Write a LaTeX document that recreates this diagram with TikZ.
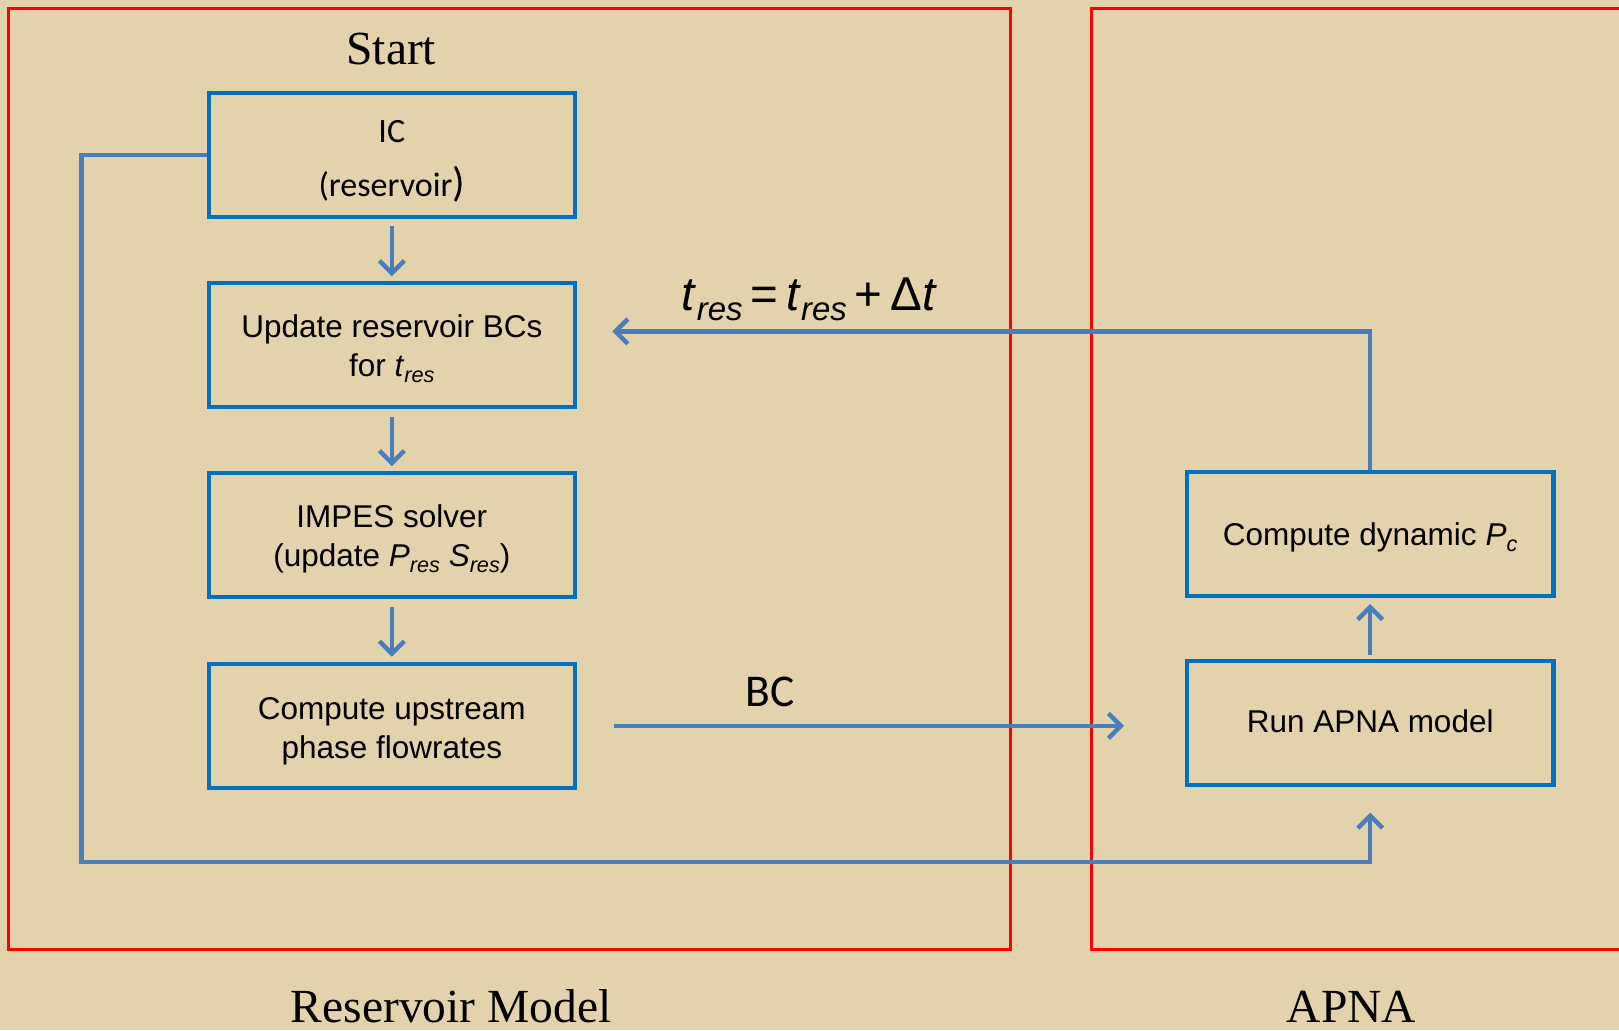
\documentclass[tikz,border=0pt]{standalone}
\usepackage{fontspec}
\setmainfont{Liberation Serif}
\newfontfamily\arialf{Liberation Sans}
\newfontfamily\calibrif{Carlito}
\usetikzlibrary{arrows.meta}
\definecolor{bgtan}{RGB}{226,211,172}
\definecolor{boxblue}{RGB}{0,112,192}
\definecolor{connblue}{RGB}{74,126,187}
\definecolor{redline}{RGB}{255,0,0}
\newcommand\subsm[1]{\raisebox{-0.35ex}{\fontsize{21}{21}\selectfont\itshape #1}}
\newcommand\subbig[1]{\raisebox{-0.4ex}{\fontsize{32}{32}\selectfont\itshape #1}}
\newcommand\dn[2][4pt]{\raisebox{-#1}[\height][\depth]{\begin{tabular}{@{}c@{}}#2\end{tabular}}}
\tikzset{
  flowbox/.style={draw=boxblue, line width=4pt, minimum width=355pt, minimum height=120pt, inner sep=0pt, font=\arialf\fontsize{30.5}{38}\selectfont},
  conn/.style={draw=connblue, line width=4.3pt, -{Straight Barb[length=12pt,width=24pt,line width=4.3pt]}},
  regionbox/.style={draw=redline, line width=3pt},
  serifbig/.style={font=\fontsize{46}{46}\selectfont, inner sep=0pt}
}
\begin{document}
\begin{tikzpicture}[x=1pt,y=-1pt]
\useasboundingbox (0,0) rectangle (1568,998);
\fill[bgtan] (0,0) rectangle (1568,998);
\begin{scope}
\clip (0,0) rectangle (1568,998);
% region boxes
\draw[regionbox] (8,8) rectangle (979,920);
\draw[regionbox] (1057,8) rectangle (1600,920);
\end{scope}
% titles
\node[serifbig, anchor=base] (start) at (379,62) {Start};
\node[serifbig, anchor=base] (resmodel) at (437,990) {Reservoir Model};
\node[serifbig, anchor=base] (apna) at (1309,990) {APNA};
% boxes
\node[flowbox, font=\calibrif\fontsize{33}{52}\selectfont] (ic) at (379.5,150) {\dn{IC\\(reservoir{\fontsize{40}{40}\selectfont)}}};
\node[flowbox] (upd) at (379.5,334.5) {\dn{Update reservoir BCs\\for \textit{t}\subsm{res}}};
\node[flowbox] (imp) at (379.5,518.5) {\dn{IMPES solver\\(update \textit{P}\subsm{res} \textit{S}\subsm{res})}};
\node[flowbox] (cu) at (379.5,703) {\dn[5pt]{Compute upstream\\phase flowrates}};
\node[flowbox] (run) at (1327,700) {\dn[2pt]{Run APNA model}};
\node[flowbox] (pc) at (1327,517) {\dn{Compute dynamic \textit{P}\subsm{c}}};
% vertical arrows
\draw[conn, shorten <=7pt, shorten >=5pt] (ic) -- (upd);
\draw[conn, shorten <=7pt, shorten >=5pt] (upd) -- (imp);
\draw[conn, shorten <=7pt, shorten >=5pt] (imp) -- (cu);
\draw[conn, shorten <=4pt, shorten >=6pt] (run) -- (pc);
% BC arrow
\draw[conn, shorten <=36pt, shorten >=59pt] (cu.east) -- (cu.east -| run.west);
\node[font=\calibrif\fontsize{44}{44}\selectfont, anchor=base, inner sep=0pt] (bclabel) at (746,684) {BC};
% feedback arrow
\coordinate (fbend) at (593,321);
\draw[conn] (pc.north) |- (fbend);
\node[font=\arialf\fontsize{46}{46}\selectfont, anchor=base, inner sep=0pt] (tlabel) at (784,301) {\textit{t}\subbig{res}\,=\,\textit{t}\subbig{res}\,+\,Δ\textit{t}};
% loop
\coordinate (lpA) at (79,835);
\draw[conn, shorten >=25pt] (ic.west) -| (lpA) -| (run.south);
\end{tikzpicture}
\end{document}
